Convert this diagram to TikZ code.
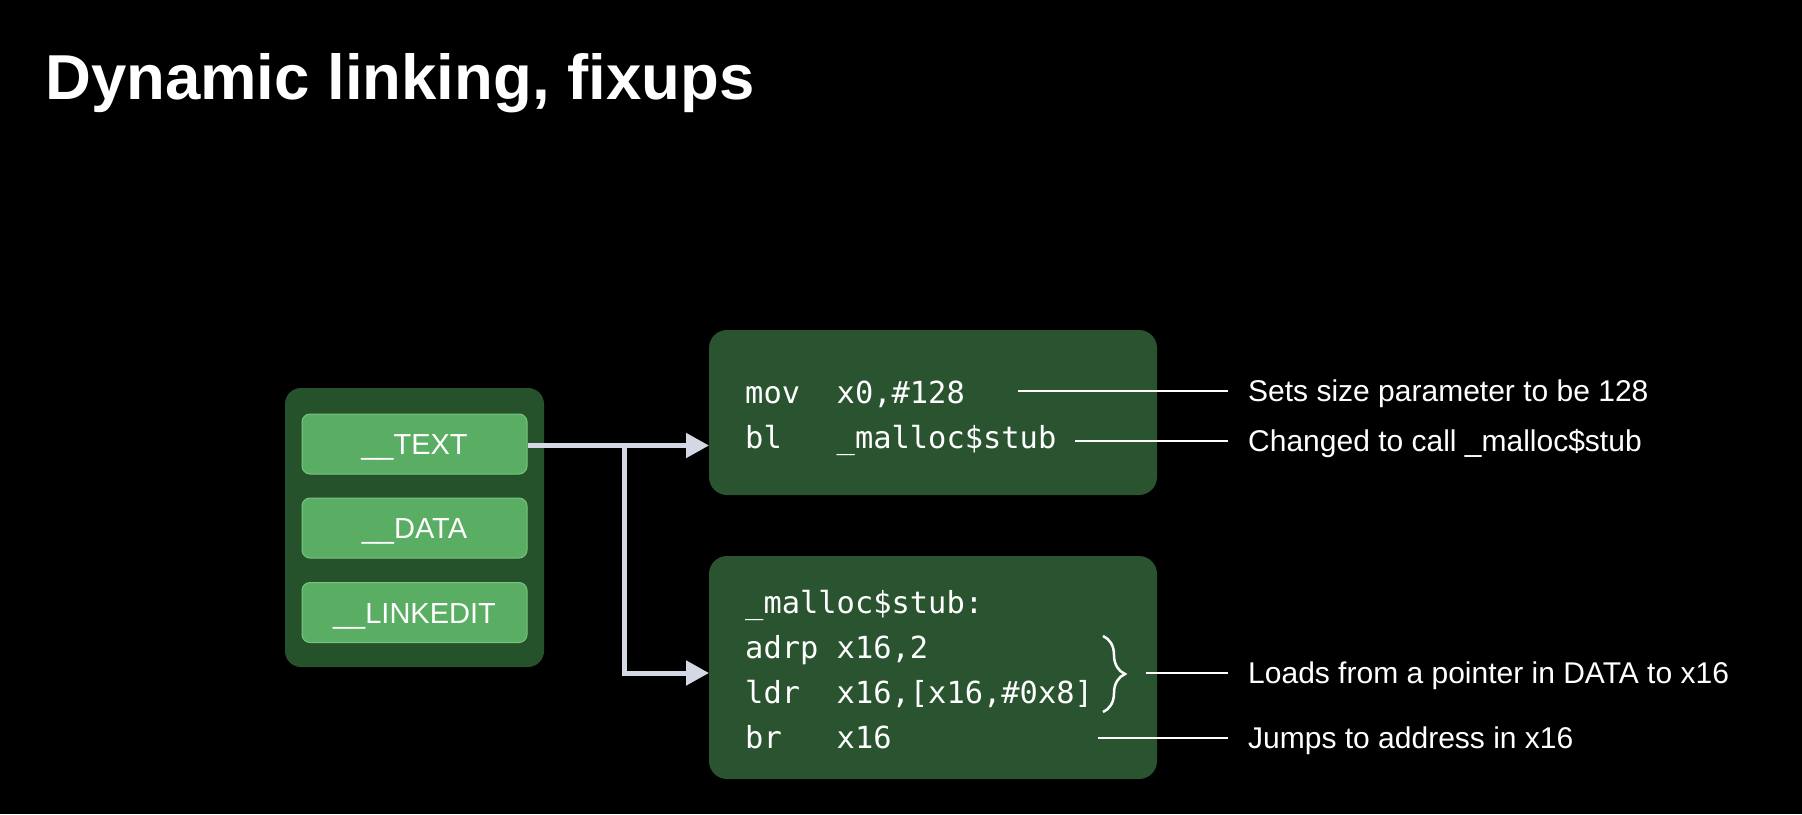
\documentclass[tikz,border=0pt]{standalone}
\usepackage{fontspec}
\setmainfont{Liberation Sans}
\newfontfamily\codefont{DejaVu Sans Mono}
\usetikzlibrary{arrows.meta,decorations.pathreplacing}
\definecolor{outerg}{RGB}{38,82,43}
\definecolor{codeg}{RGB}{42,84,47}
\definecolor{segfill}{RGB}{90,174,100}
\definecolor{segedge}{RGB}{122,196,128}
\definecolor{arrowc}{RGB}{212,216,228}
\tikzset{
  outerbox/.style={fill=outerg, rounded corners=16pt, minimum width=259pt, minimum height=279pt, inner sep=0pt},
  segbox/.style={fill=segfill, draw=segedge, line width=1pt, rounded corners=8pt, minimum width=225pt, minimum height=60pt, inner sep=0pt, text height=21pt, text depth=0pt, text=white, font=\fontsize{29}{32}\selectfont},
  codebox/.style={fill=codeg, rounded corners=18pt, minimum width=448pt, inner sep=0pt},
  codeline/.style={anchor=base west, inner sep=0pt, text=white, font=\codefont\fontsize{30.4}{34}\selectfont},
  note/.style={anchor=west, inner sep=0pt, text height=21.5pt, text depth=0pt, text=white, font=\fontsize{30}{34}\selectfont},
  noteline/.style={draw=white, line width=2pt},
  flow/.style={draw=arrowc, line width=5pt, line join=miter},
  flowtip/.style={-{Triangle[length=23pt,width=24pt]}}
}
\begin{document}
\begin{tikzpicture}[x=1pt,y=-1pt]
\fill[black] (0,0) rectangle (1802,814);
\useasboundingbox (0,0) rectangle (1802,814);

% title
\node[anchor=base west, inner sep=0pt, text=white, font=\fontsize{63.5}{70}\selectfont\bfseries] (title) at (45,99) {Dynamic linking, fixups};

% segments
\node[outerbox] (outer) at (414.5,527.5) {};
\node[segbox] (text) at (414.5,444) {\_\_TEXT};
\node[segbox] (data) at (414.5,528) {\_\_DATA};
\node[segbox] (linkedit) at (414.5,612.5) {\_\_LINKEDIT};

% code boxes
\node[codebox, minimum height=165pt] (code1) at (933,412.5) {};
\node[codebox, minimum height=223pt] (code2) at (933,667.5) {};

\node[codeline] (mov) at (745,403) {mov\ \ x0,\#128};
\node[codeline] (bl) at (745,448) {bl\ \ \ \_malloc\$stub};
\node[codeline] (stub) at (745,613) {\_malloc\$stub:};
\node[codeline] (adrp) at (745,658) {adrp x16,2};
\node[codeline] (ldr) at (745,703) {ldr\ \ x16,[x16,\#0x8]};
\node[codeline] (br) at (745,748) {br\ \ \ x16};

% arrows
\coordinate (j) at (624,445.5);
\coordinate (in1) at (709,445.5);
\coordinate (in2) at (709,673);
\draw[flow, flowtip] (text.east |- j) -- (in1);
\draw[flow, flowtip] (j) |- (in2);

% brace
\draw[white, line width=2.5pt, decoration={brace, amplitude=22pt, aspect=0.5}, decorate] (1103,636) -- (1103,712);

% annotations
\node[note] (n1) at (1248,391) {Sets size parameter to be 128};
\node[note] (n2) at (1248,441) {Changed to call \_malloc\$stub};
\node[note] (n3) at (1248,673) {Loads from a pointer in DATA to x16};
\node[note] (n4) at (1248,738) {Jumps to address in x16};

\coordinate (s1) at (1018,391);
\coordinate (s2) at (1075,441);
\coordinate (s3) at (1146,673);
\coordinate (s4) at (1098,738);
\draw[noteline] (s1) -- ([xshift=-20pt]n1.west);
\draw[noteline] (s2) -- ([xshift=-20pt]n2.west);
\draw[noteline] (s3) -- ([xshift=-20pt]n3.west);
\draw[noteline] (s4) -- ([xshift=-20pt]n4.west);
\end{tikzpicture}
\end{document}
